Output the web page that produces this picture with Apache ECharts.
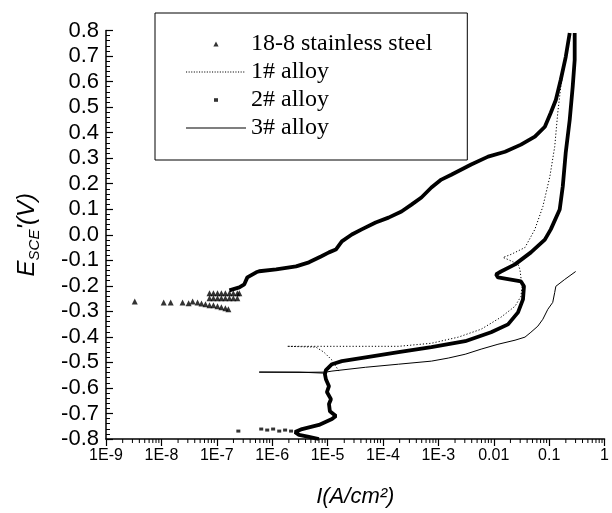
<!DOCTYPE html>
<html>
<head>
<meta charset="utf-8">
<script src="https://cdn.jsdelivr.net/npm/echarts@6/dist/echarts.min.js"></script>
<style>
html,body{margin:0;padding:0;background:#fff;}
#chart{width:612px;height:513px;}
</style>
</head>
<body>
<div id="chart"></div>
<script>
// ---- data (current density A/cm2, potential V vs SCE) ----
var seriesNames = ['18-8 stainless steel', '1# alloy', '2# alloy', '3# alloy'];
var xTickLabels = ['1E-9','1E-8','1E-7','1E-6','1E-5','1E-4','1E-3','0.01','0.1','1'];

var steelSparse = [
  [3.3e-9,-0.261],[1.10e-8,-0.265],[1.47e-8,-0.265],[2.41e-8,-0.265],[3.10e-8,-0.268],[3.66e-8,-0.261],[4.50e-8,-0.265],
  [5.30e-8,-0.269],[6.26e-8,-0.272],[7.38e-8,-0.276],[8.71e-8,-0.276],[1.03e-7,-0.280],[1.21e-7,-0.284],[1.43e-7,-0.288],[1.62e-7,-0.292],
  [7.38e-8,-0.249],[8.71e-8,-0.249],[1.03e-7,-0.249],[1.21e-7,-0.249],[1.43e-7,-0.249],[1.69e-7,-0.249],[1.99e-7,-0.249],[2.35e-7,-0.249],
  [7.38e-8,-0.229],[8.71e-8,-0.229],[1.03e-7,-0.229],[1.21e-7,-0.229],[1.43e-7,-0.229],[1.69e-7,-0.229],[1.99e-7,-0.229],[2.35e-7,-0.229],[2.55e-7,-0.229]
];
var steelCurve = [
  [1.69e-7,-0.218],[2.55e-7,-0.206],[3.14e-7,-0.194],[3.56e-7,-0.167],[5.15e-7,-0.147],[5.83e-7,-0.143],
  [1.18e-6,-0.136],[2.70e-6,-0.124],[4.61e-6,-0.108],[7.59e-6,-0.085],[1.06e-5,-0.069],[1.41e-5,-0.058],
  [1.81e-5,-0.026],[2.74e-5,0.001],[4.13e-5,0.021],[7.38e-5,0.048],[1.26e-4,0.067],[2.16e-4,0.091],
  [3.27e-4,0.118],[4.94e-4,0.146],[7.48e-4,0.185],[1.13e-3,0.216],[1.71e-3,0.235],[3.91e-3,0.275],
  [7.91e-3,0.306],[1.60e-2,0.325],[3.10e-2,0.353],[5.52e-2,0.384],[8.36e-2,0.423],[0.107,0.478],
  [0.132,0.528],[0.162,0.607],[0.199,0.696],[0.235,0.790]
];
var alloy1 = [
  [1.60e-5,-0.534],[1.20e-5,-0.491],[8.59e-6,-0.460],[6.17e-6,-0.440],[1.86e-6,-0.437],[6.98e-6,-0.437],
  [1.91e-4,-0.437],[7.48e-4,-0.425],[2.29e-3,-0.401],[5.92e-3,-0.370],[1.35e-2,-0.323],[2.42e-2,-0.280],
  [3.10e-2,-0.241],[3.23e-2,-0.202],[2.97e-2,-0.136],[2.74e-2,-0.116],[1.81e-2,-0.097],[1.47e-2,-0.089],
  [2.05e-2,-0.077],[3.66e-2,-0.050],[5.52e-2,0.021],[7.69e-2,0.110],[0.103,0.228],[0.126,0.345],
  [0.143,0.478],[0.162,0.579],[0.183,0.646],[0.216,0.724]
];
var alloy2Sparse = [
  [2.45e-7,-0.769],[6.34e-7,-0.761],[8.13e-7,-0.765],[1.04e-6,-0.761],[1.34e-6,-0.769],[1.71e-6,-0.765],[2.19e-6,-0.769]
];
var alloy2Curve = [
  [6.98e-6,-0.800],[4.61e-6,-0.792],[3.05e-6,-0.784],[2.59e-6,-0.773],[3.46e-6,-0.761],[6.98e-6,-0.745],
  [1.20e-5,-0.722],[1.41e-5,-0.710],[1.10e-5,-0.691],[1.06e-5,-0.663],[1.15e-5,-0.644],[9.73e-6,-0.616],
  [1.06e-5,-0.593],[9.33e-6,-0.566],[8.95e-6,-0.546],[9.33e-6,-0.530],[1.20e-5,-0.507],[1.81e-5,-0.495],
  [4.87e-5,-0.480],[1.91e-4,-0.460],[7.48e-4,-0.440],[3.05e-3,-0.417],[8.95e-3,-0.382],[1.81e-2,-0.351],
  [2.74e-2,-0.304],[3.37e-2,-0.253],[3.51e-2,-0.202],[3.10e-2,-0.183],[1.19e-2,-0.167],[1.10e-2,-0.155],
  [1.35e-2,-0.144],[2.42e-2,-0.116],[4.68e-2,-0.069],[8.36e-2,-0.019],[0.107,0.021],[0.155,0.099],
  [0.176,0.189],[0.199,0.321],[0.235,0.450],[0.266,0.579],[0.289,0.685],[0.289,0.790]
];
var alloy3 = [
  [9.73e-6,-0.573],[8.59e-6,-0.542],[3.05e-6,-0.538],[5.83e-7,-0.538],[3.05e-6,-0.539],[9.33e-6,-0.538],
  [1.20e-5,-0.534],[4.87e-5,-0.519],[1.91e-4,-0.507],[7.48e-4,-0.495],[1.51e-3,-0.483],[3.05e-3,-0.468],
  [5.92e-3,-0.448],[1.19e-2,-0.429],[2.42e-2,-0.413],[3.66e-2,-0.401],[4.68e-2,-0.382],[6.25e-2,-0.358],
  [7.69e-2,-0.331],[9.46e-2,-0.292],[0.116,-0.265],[0.126,-0.226],[0.132,-0.202],[0.191,-0.175],[0.301,-0.144]
];
var decades = [1e-9,1e-8,1e-7,1e-6,1e-5,1e-4,1e-3,1e-2,1e-1];

// minor tick positions of the log axis (2..9 within each decade)
var minorTicks = [];
decades.forEach(function (d) { for (var k = 2; k <= 9; k++) minorTicks.push([k * d, -0.8]); });

// legend icon shapes (60 x 14 boxes)
var iconBox = 'M0,0M60,14';
var triIcon = 'path://' + iconBox + 'M27.4,9.5L30,4.6L32.6,9.5Z';
var sqIcon = 'path://' + iconBox + 'M28,5.2L32,5.2L32,8.8L28,8.8Z';
var solidIcon = 'path://' + iconBox + 'M0,6.4L61,6.4L61,7.6L0,7.6Z';
var dotIcon = 'path://' + iconBox;
for (var dx = 0; dx < 58; dx += 2.6) {
  dotIcon += 'M' + dx.toFixed(1) + ',6.5L' + (dx + 1.1).toFixed(1) + ',6.5L' + (dx + 1.1).toFixed(1) + ',7.5L' + dx.toFixed(1) + ',7.5Z';
}

var chart = echarts.init(document.getElementById('chart'), null, {renderer: 'canvas'});
var sans = 'Liberation Sans, Arial, sans-serif';
var serif = 'Liberation Serif, Times New Roman, serif';

var option = {
  animation: false,
  backgroundColor: '#fff',
  grid: {left: 106, right: 5, top: 30.5, bottom: 73, containLabel: false},
  legend: {
    orient: 'vertical', left: 155, top: 13,
    padding: [19, 35, 20, 31],
    borderColor: '#000', borderWidth: 1,
    itemWidth: 60, itemHeight: 14, itemGap: 4,
    selectedMode: false,
    textStyle: {fontFamily: serif, fontSize: 24, lineHeight: 24, color: '#000'},
    data: [
      {name: seriesNames[0], icon: triIcon},
      {name: seriesNames[1], icon: dotIcon},
      {name: seriesNames[2], icon: sqIcon},
      {name: seriesNames[3], icon: solidIcon}
    ]
  },
  xAxis: {
    type: 'log', logBase: 10, min: 1e-9, max: 1, interval: 1,
    name: 'I(A/cm²)', nameLocation: 'middle', nameGap: 47,
    nameTextStyle: {fontFamily: sans, fontSize: 22, fontStyle: 'italic', color: '#000'},
    axisLine: {onZero: false, lineStyle: {color: '#000', width: 1.5}},
    axisTick: {inside: false, length: 7, lineStyle: {color: '#000', width: 1.2}},
    minorTick: {show: false},
    splitLine: {show: false},
    axisLabel: {
      margin: 9, fontFamily: sans, fontSize: 16, color: '#000',
      formatter: function (v) { var i = Math.round(Math.log10(v)) + 9; return xTickLabels[i]; }
    }
  },
  yAxis: {
    type: 'value', min: -0.8, max: 0.8, interval: 0.1,
    name: '{e|E}{s|SCE}{e|\'(V)}', nameLocation: 'middle', nameGap: 64, nameRotate: 90,
    nameTextStyle: {
      color: '#000',
      rich: {
        e: {fontFamily: sans, fontSize: 24, fontStyle: 'italic', lineHeight: 30, color: '#000'},
        s: {fontFamily: sans, fontSize: 15, fontStyle: 'italic', lineHeight: 15, verticalAlign: 'bottom', color: '#000'}
      }
    },
    axisLine: {show: true, onZero: false, lineStyle: {color: '#000', width: 1.5}},
    axisTick: {inside: true, length: 7, lineStyle: {color: '#000', width: 1.2}},
    minorTick: {show: true, splitNumber: 5, length: 4, lineStyle: {color: '#000', width: 1}},
    splitLine: {show: false},
    axisLabel: {
      margin: 7, fontFamily: sans, fontSize: 22, color: '#000',
      formatter: function (v) { var s = v.toFixed(1); return s === '-0.0' ? '0.0' : s; }
    }
  },
  series: [
    {
      name: seriesNames[0], type: 'scatter', data: steelSparse,
      symbol: 'triangle', symbolSize: 6, itemStyle: {color: '#000'}, z: 4
    },
    {
      name: seriesNames[0], type: 'line', data: steelCurve, showSymbol: false, symbol: 'none',
      lineStyle: {color: '#000', width: 3.8}, itemStyle: {color: '#000'}, z: 4
    },
    {
      name: seriesNames[1], type: 'line', data: alloy1, showSymbol: false, symbol: 'none',
      lineStyle: {color: '#000', width: 1, type: [1.2, 2]}, itemStyle: {color: '#000'}, z: 3
    },
    {
      name: seriesNames[2], type: 'scatter', data: alloy2Sparse,
      symbol: 'rect', symbolSize: [4, 3], itemStyle: {color: '#000'}, z: 4
    },
    {
      name: seriesNames[2], type: 'line', data: alloy2Curve, showSymbol: false, symbol: 'none',
      lineStyle: {color: '#000', width: 3.8}, itemStyle: {color: '#000'}, z: 4
    },
    {
      name: seriesNames[3], type: 'line', data: alloy3, showSymbol: false, symbol: 'none',
      lineStyle: {color: '#000', width: 1}, itemStyle: {color: '#000'}, z: 3
    },
    {
      name: 'minorTicks', type: 'custom', data: minorTicks, silent: true, clip: false,
      renderItem: function (params, api) {
        var p = api.coord([api.value(0), api.value(1)]);
        return {type: 'line', shape: {x1: p[0], y1: p[1], x2: p[0], y2: p[1] + 4},
                style: {stroke: '#000', lineWidth: 1}};
      }
    }
  ]
};
chart.setOption(option);
</script>
</body>
</html>
